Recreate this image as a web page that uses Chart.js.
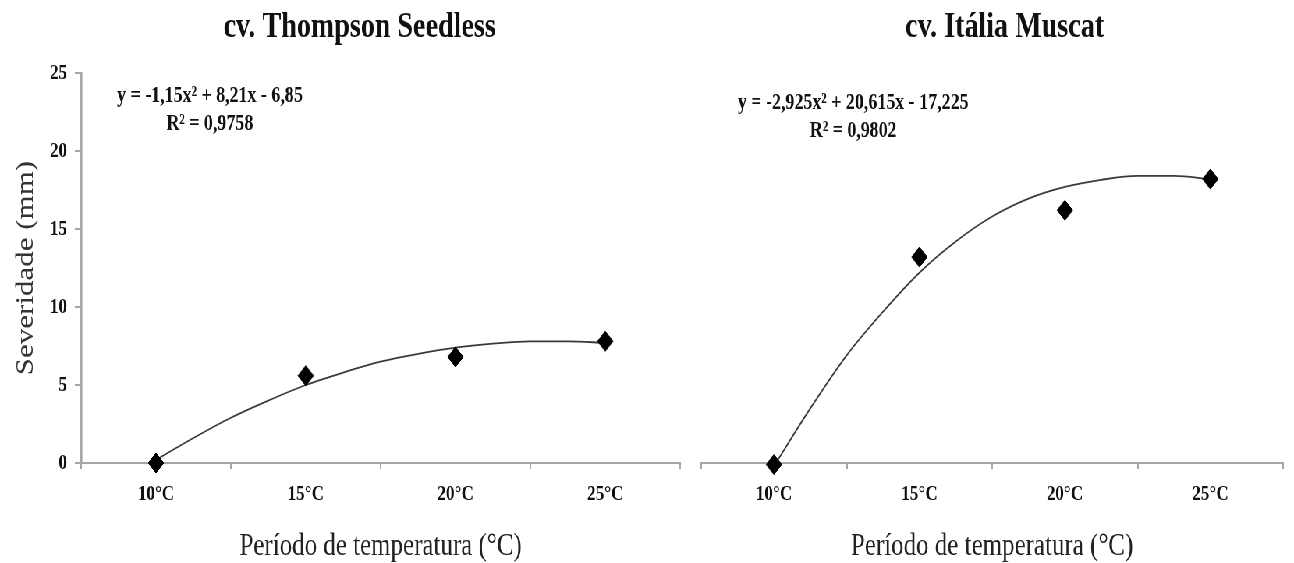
<!DOCTYPE html>
<html>
<head>
<meta charset="utf-8">
<script src="https://cdn.jsdelivr.net/npm/chart.js@4.4.1/dist/chart.umd.min.js"></script>
<style>
	body { margin: 0; background: #fff; overflow: hidden; }
	/* the source figure is squeezed sideways, so draw wide and scale down */
	#wrap { width: 1659px; height: 563px; display: flex; transform: scaleX(0.78); transform-origin: 0 0; }
	canvas { display: block; }
</style>
</head>
<body>
<div id="wrap">
	<canvas id="thompsonGraph" width="885" height="563"></canvas>
	<canvas id="italiaGraph" width="774" height="563"></canvas>
</div>
<script>
var categories = ['10°C', '15°C', '20°C', '25°C'];
var catIndex = [1, 2, 3, 4];
var yTicks = [0, 5, 10, 15, 20, 25];

var thompsonValues = [0, 5.6, 6.8, 7.8];
var italiaValues = [-0.1, 13.2, 16.2, 18.2];

// trend curves
var trendX = [1, 1.25, 1.5, 1.75, 2, 2.25, 2.5, 2.75, 3, 3.25, 3.5, 3.75, 4];
var thompsonTrend = [0.2, 1.6, 2.9, 4.0, 5.0, 5.8, 6.5, 7.0, 7.4, 7.65, 7.8, 7.8, 7.7];
var italiaTrend = [-0.2, 3.5, 6.9, 9.7, 12.2, 14.2, 15.8, 16.95, 17.7, 18.15, 18.4, 18.4, 18.2];

var serif = '"Liberation Serif", "Times New Roman", serif';
var axisGrey = '#a6a6a6';

function toPoints(xs, ys) {
	return xs.map(function(x, i) { return {x: x, y: ys[i]}; });
}

var panelText = {
	id: 'panelText',
	afterDraw: function(chart, args, opts) {
		var ctx = chart.ctx;
		var xs = chart.scales.x;
		var ys = chart.scales.y;
		var lx = xs.getPixelForValue(opts.labelAt[0]);
		ctx.save();
		ctx.fillStyle = '#111';
		ctx.textAlign = 'center';
		ctx.textBaseline = 'middle';
		ctx.font = 'bold 36px ' + serif;
		ctx.fillText(opts.title, opts.titleX, 28);
		ctx.font = 'bold 23px ' + serif;
		ctx.fillText(opts.equation, lx, ys.getPixelForValue(opts.labelAt[1]));
		ctx.fillText(opts.r2, lx, ys.getPixelForValue(opts.labelAt[2]));
		ctx.restore();
	}
};

function makePanel(id, p) {
	return new Chart(document.getElementById(id), {
		type: 'scatter',
		data: {
			datasets: [{
				data: toPoints(catIndex, p.values),
				pointStyle: 'rectRot',
				pointRadius: 10,
				backgroundColor: '#000',
				borderColor: '#000',
				borderWidth: 1,
				clip: false,
				order: 0
			}, {
				data: toPoints(trendX, p.trend),
				showLine: true,
				pointRadius: 0,
				borderColor: '#3a3a3a',
				borderWidth: 1.8,
				cubicInterpolationMode: 'monotone',
				clip: false,
				order: 1
			}]
		},
		plugins: [panelText],
		options: {
			responsive: false,
			animation: false,
			devicePixelRatio: 1,
			layout: { padding: p.padding },
			plugins: {
				legend: { display: false },
				tooltip: { enabled: false },
				panelText: {
					title: p.title,
					titleX: p.titleX,
					equation: p.equation,
					r2: p.r2,
					labelAt: p.labelAt
				}
			},
			scales: {
				x: {
					type: 'linear',
					min: 0.5,
					max: 4.5,
					display: false
				},
				xc: {
					type: 'category',
					position: 'bottom',
					labels: categories,
					offset: true,
					afterFit: function(scale) { scale.height = 100; },
					grid: {
						offset: true,
						drawOnChartArea: false,
						tickLength: 6,
						color: axisGrey,
						lineWidth: 2
					},
					border: { color: axisGrey, width: 2 },
					ticks: {
						padding: 12,
						color: '#111',
						font: { family: serif, size: 22, weight: 'bold' }
					},
					title: {
						display: true,
						text: 'Período de temperatura (°C)',
						color: '#222',
						padding: 0,
						font: { family: serif, size: 32, lineHeight: 1 }
					}
				},
				y: {
					min: 0,
					max: 25,
					display: p.showY,
					afterBuildTicks: function(scale) {
						scale.ticks = yTicks.map(function(v) { return {value: v}; });
					},
					afterFit: function(scale) { scale.width = p.showY ? 104 : 0; },
					grid: {
						drawOnChartArea: false,
						tickLength: 8,
						color: axisGrey,
						lineWidth: 2
					},
					border: { color: axisGrey, width: 2.6 },
					ticks: {
						padding: 10,
						color: '#111',
						font: { family: serif, size: 22, weight: 'bold' }
					},
					title: {
						display: true,
						text: 'Severidade (mm)',
						color: '#333',
						padding: { top: 18, bottom: 0 },
						font: { family: serif, size: 31, lineHeight: 1 }
					}
				}
			}
		}
	});
}

var thompsonChart = makePanel('thompsonGraph', {
	values: thompsonValues,
	trend: thompsonTrend,
	showY: true,
	padding: { top: 73, left: 0, right: 13, bottom: 0 },
	title: 'cv. Thompson Seedless',
	titleX: 461,
	equation: 'y = -1,15x² + 8,21x - 6,85',
	r2: 'R² = 0,9758',
	labelAt: [1.36, 23.5, 21.7]
});

var italiaChart = makePanel('italiaGraph', {
	values: italiaValues,
	trend: italiaTrend,
	showY: false,
	padding: { top: 73, left: 14, right: 14, bottom: 0 },
	title: 'cv. Itália Muscat',
	titleX: 403,
	equation: 'y = -2,925x² + 20,615x - 17,225',
	r2: 'R² = 0,9802',
	labelAt: [1.545, 23.1, 21.3]
});
</script>
</body>
</html>
